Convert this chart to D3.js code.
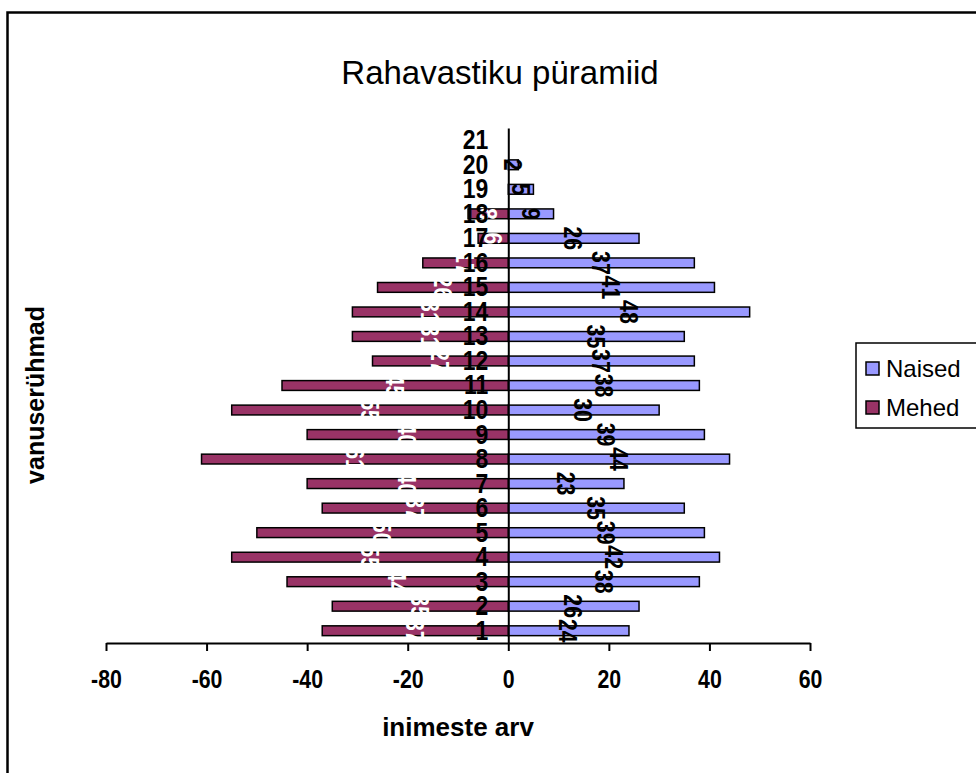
<html>
<head>
  <title>Rahavastiku püramiid</title>
  <script src="https://d3js.org/d3.v7.min.js"></script>
  <style>
    body { margin: 0; background: #fff; }
    text { font-family: "Liberation Sans", Arial, sans-serif; }
    .narrow { font-weight: bold; }
    .axis .domain { stroke: #000; stroke-width: 2; }
    .axis line { stroke: #000; stroke-width: 2; }
  </style>
</head>
<body>
  <svg id="pyramid" width="976" height="773"></svg>

  <script>
    // data
    const ages = d3.range(1, 22);
    const naised = [24, 26, 38, 42, 39, 35, 23, 44, 39, 30, 38, 37, 35, 48, 41, 37, 26, 9, 5, 2, 0];
    const mehed = [-37, -35, -44, -55, -50, -37, -40, -61, -40, -55, -45, -27, -31, -31, -26, -17, -6, -8, 0, 0, 0];
    const xTicks = [-80, -60, -40, -20, 0, 20, 40, 60];
    const seriesNames = ["Naised", "Mehed"];
    const colors = { Naised: "#9999ff", Mehed: "#993366" };

    // no narrow font installed, so squeeze bold text horizontally
    const squeeze = 0.82;

    const svg = d3.select("svg#pyramid");

    // outer chart border (only left/top edges fall inside the picture)
    svg.append("rect")
      .attr("x", 7.5).attr("y", 12.5)
      .attr("width", 1000).attr("height", 800)
      .attr("fill", "none").attr("stroke", "#000").attr("stroke-width", 2.5);

    const xScale = d3.scaleLinear().domain([-80, 60]).range([106, 810]);
    const yScale = d3.scaleBand().domain(ages.slice().reverse()).range([128, 643]).paddingInner(0.6).paddingOuter(0.3);

    let chartArea = svg.append("g").attr("id", "bars");
    let annotations = svg.append("g").attr("id", "annotations");

    const rows = ages.map((a, i) => ({ age: a, naised: naised[i], mehed: mehed[i] }));

    // women to the right
    chartArea.selectAll("rect.naised").data(rows.filter(d => d.naised != 0))
      .join("rect")
      .attr("class", "naised")
      .attr("x", d => xScale(0))
      .attr("y", d => yScale(d.age))
      .attr("width", d => xScale(d.naised) - xScale(0))
      .attr("height", yScale.bandwidth())
      .attr("fill", colors.Naised)
      .attr("stroke", "#000").attr("stroke-width", 1.5);

    // men to the left
    chartArea.selectAll("rect.mehed").data(rows.filter(d => d.mehed != 0))
      .join("rect")
      .attr("class", "mehed")
      .attr("x", d => xScale(d.mehed))
      .attr("y", d => yScale(d.age))
      .attr("width", d => xScale(0) - xScale(d.mehed))
      .attr("height", yScale.bandwidth())
      .attr("fill", colors.Mehed)
      .attr("stroke", "#000").attr("stroke-width", 1.5);

    // rotated value labels
    const labelY = d => yScale(d.age) + yScale.bandwidth() / 2;
    chartArea.selectAll("text.lblN").data(rows.filter(d => d.naised != 0))
      .join("text")
      .attr("class", "lblN narrow")
      .attr("transform", d => `translate(${(xScale(0) + xScale(d.naised)) / 2},${labelY(d)}) rotate(90) scale(${squeeze},1)`)
      .attr("text-anchor", "middle").attr("dominant-baseline", "central")
      .attr("font-size", 26).attr("fill", "#000")
      .text(d => d.naised);

    chartArea.selectAll("text.lblM").data(rows.filter(d => d.mehed != 0))
      .join("text")
      .attr("class", "lblM narrow")
      .attr("transform", d => `translate(${(xScale(0) + xScale(d.mehed)) / 2},${labelY(d)}) rotate(90) scale(${squeeze},1)`)
      .attr("text-anchor", "middle").attr("dominant-baseline", "central")
      .attr("font-size", 26).attr("fill", "#fff")
      .text(d => Math.abs(d.mehed));

    // vertical axis at zero with age group labels
    let leftAxis = d3.axisLeft(yScale).tickSize(0).tickPadding(0);
    annotations.append("g")
      .attr("class", "y axis")
      .attr("transform", `translate(${xScale(0)},0)`)
      .call(leftAxis)
      .call(g => g.selectAll("text")
        .attr("class", "narrow").attr("font-size", 28).attr("fill", "#000")
        .attr("x", -20 / squeeze)
        .attr("transform", `scale(${squeeze},1)`));

    // bottom axis
    let bottomAxis = d3.axisBottom(xScale).tickValues(xTicks).tickFormat(d => String(d))
      .tickSize(8).tickPadding(19).tickSizeOuter(0);
    annotations.append("g")
      .attr("class", "x axis")
      .attr("transform", `translate(0,643)`)
      .call(bottomAxis)
      .call(g => g.selectAll("text")
        .attr("class", "narrow").attr("font-size", 26).attr("fill", "#000")
        .attr("transform", `scale(${squeeze},1)`));

    // titles
    svg.append("text")
      .attr("x", 500).attr("y", 84)
      .attr("text-anchor", "middle").attr("font-size", 33)
      .text("Rahavastiku püramiid");

    svg.append("text")
      .attr("x", 458).attr("y", 736)
      .attr("text-anchor", "middle").attr("font-size", 26).attr("font-weight", "bold")
      .text("inimeste arv");

    svg.append("text")
      .attr("transform", "translate(44,395) rotate(-90)")
      .attr("text-anchor", "middle").attr("font-size", 25).attr("font-weight", "bold")
      .text("vanuserühmad");

    // legend
    let legend = svg.append("g").attr("id", "legend");
    legend.append("rect")
      .attr("x", 856).attr("y", 343).attr("width", 140).attr("height", 85)
      .attr("fill", "#fff").attr("stroke", "#000").attr("stroke-width", 1.5);
    seriesNames.forEach((name, i) => {
      legend.append("rect")
        .attr("x", 866).attr("y", 362 + i * 39).attr("width", 13).attr("height", 13)
        .attr("fill", colors[name]).attr("stroke", "#000").attr("stroke-width", 1.5);
      legend.append("text")
        .attr("x", 886).attr("y", 377 + i * 39)
        .attr("font-size", 24)
        .text(name);
    });
  </script>
</body>
</html>
